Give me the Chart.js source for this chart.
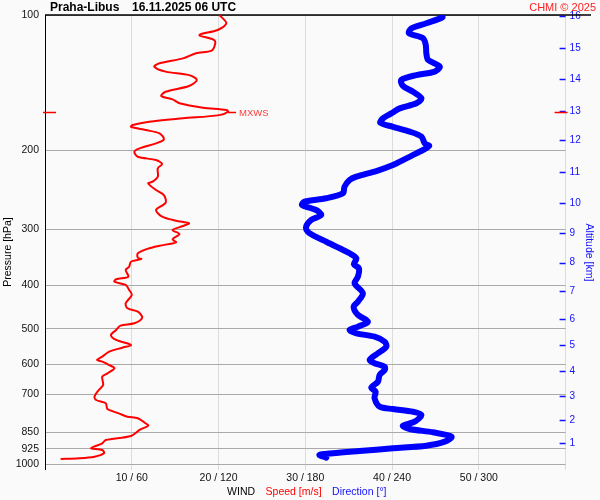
<!DOCTYPE html>
<html>
<head>
<meta charset="utf-8">
<script src="https://cdn.jsdelivr.net/npm/chart.js@4/dist/chart.umd.min.js"></script>
<style>
  html, body { margin: 0; padding: 0; background: #fafafa; }
  canvas { display: block; }
</style>
</head>
<body>
<canvas id="sounding" width="600" height="500"></canvas>
<script>
// Pressure levels [hPa] and wind speed [m/s] of the red curve (top -> surface)
const SPEED_P = [100, 104.3, 108, 110.8, 113.7, 116.2, 120.1, 121.7, 124.9, 128.1,
  130.3, 133.7, 136.1, 139.5, 143.9, 148.2, 151.5, 154.1, 157.3, 160.9,
  162.8, 164.2, 167.1, 169.9, 172.9, 175.8, 177.4, 180.4, 183.5, 189.2,
  193.1, 198.2, 201.6, 206.9, 210.4, 214.7, 219.5, 229.1, 235.1, 237.1,
  245.4, 251.8, 261.8, 271.8, 281.3, 287.2, 291.0, 295.1, 301.2, 307.5,
  315.9, 320.8, 326.5, 330.8, 339.4, 347.2, 349.5, 354.4, 363.6, 369.8,
  382.7, 387.8, 392.6, 399.3, 409.7, 420.3, 438.6, 450.0, 457.9, 472.2,
  485.9, 491.9, 502.9, 516.0, 529.4, 543.1, 550.7, 562.1, 576.7, 586.6,
  591.7, 601.9, 612.2, 628.1, 639.1, 666.9, 684.2, 708.1, 720.2, 732.5,
  754.3, 771.1, 784.6, 791.1, 811.6, 821.6, 839.9, 866.2, 884.2, 899.3,
  922.6, 930.7, 946.6, 963.3, 971.3, 974.7];
const SPEED_MS = [20.1, 20.9, 19.9, 17.8, 19.5, 19.6, 19.2, 17.4, 15.9, 13.2,
  12.6, 13.9, 16.6, 17.5, 16.6, 13.9, 13.4, 14.7, 15.5, 18.2,
  20.9, 21.1, 20.1, 15.9, 12.0, 10.1, 9.9, 11.6, 13.2, 13.7,
  12.8, 10.9, 10.3, 10.7, 12.8, 13.5, 13.0, 13.0, 12.4, 11.9,
  12.8, 13.7, 13.9, 12.8, 13.5, 15.1, 16.6, 15.9, 14.7, 15.5,
  14.7, 15.1, 13.2, 12.0, 10.7, 10.7, 11.1, 9.9, 9.7, 9.3,
  9.6, 8.2, 8.0, 9.3, 9.7, 10.0, 9.3, 9.5, 10.7, 11.2,
  10.3, 8.7, 8.2, 7.6, 8.2, 9.9, 8.9, 7.4, 6.6, 6.0,
  6.6, 7.4, 8.0, 7.2, 6.6, 6.7, 6.2, 5.7, 5.9, 7.0,
  7.2, 8.5, 9.5, 10.7, 11.6, 11.9, 10.9, 9.9, 7.0, 6.6,
  5.3, 6.6, 6.8, 5.7, 3.9, 1.8];

// Pressure levels [hPa] and wind direction [deg] of the blue curve
const DIR_P = [100, 101.2, 104.3, 107.1, 109.8, 112.7, 116.6, 121.7, 125.9, 130.3,
  133.7, 136.1, 139.5, 143.9, 148.2, 153.3, 157.3, 161.4, 165.6, 169.9,
  173.8, 177.4, 181.9, 186.6, 193.1, 195.8, 201.6, 208.6, 215.8, 222.6,
  229.1, 233.1, 241.3, 249.5, 256.0, 260.4, 265.0, 271.8, 278.9, 286.1,
  296.1, 303.9, 311.7, 319.8, 330.8, 339.4, 348.3, 359.2, 366.6, 382.7,
  395.9, 416.7, 435.1, 446.3, 465.6, 482.0, 494.5, 502.9, 511.6, 520.5,
  534.1, 548.0, 566.7, 586.6, 596.6, 607.2, 617.6, 633.6, 655.8, 676.3,
  690.2, 714.0, 745.4, 754.3, 764.8, 777.8, 805.0, 821.6, 835.6, 850.0,
  869.3, 891.9, 910.4, 922.6, 935.6, 946.6, 954.5, 968.3];
const DIR_DEG = [274.1, 274.8, 263.7, 253.4, 251.7, 261.4, 263.3, 263.7, 264.9, 273.0,
  269.5, 256.8, 246.4, 247.5, 254.5, 260.3, 256.8, 245.3, 239.5, 233.7,
  231.9, 240.6, 252.2, 260.3, 262.6, 265.6, 259.1, 249.9, 240.6, 229.1,
  215.3, 210.6, 207.1, 206.0, 194.5, 179.4, 177.8, 187.5, 191.0, 184.1,
  180.6, 181.7, 187.1, 194.5, 203.7, 210.6, 215.3, 213.6, 217.1, 216.4,
  214.1, 219.8, 216.4, 213.4, 216.4, 223.3, 216.4, 210.6, 215.3, 227.9,
  234.9, 236.0, 230.2, 224.5, 227.9, 234.9, 234.9, 231.4, 230.2, 225.6,
  228.6, 227.9, 231.4, 240.6, 254.5, 260.3, 255.6, 247.5, 252.2, 268.3,
  281.1, 276.4, 263.7, 240.6, 217.5, 199.0, 189.8, 194.5];

// Axis ticks
const P_TICKS = [100, 200, 300, 400, 500, 600, 700, 850, 925, 1000];
const ALT_KM = [1, 2, 3, 4, 5, 6, 7, 8, 9, 10, 11, 12, 13, 14, 15, 16];
const ALT_P = [899, 798, 705.8, 621.5, 544.0, 476.1, 411.8, 356.2, 306.4, 262.7,
  223.7, 190.1, 163.4, 139.1, 118.6, 100.4];
const X_LABELS = ['', '10 / 60', '20 / 120', '30 / 180', '40 / 240', '50 / 300', ''];

const FONT = "'Liberation Sans', Arial, sans-serif";
Chart.defaults.font.family = FONT;

const decor = {
    id: 'decor',
    beforeDraw(chart) {
        const { ctx, width, height } = chart;
        ctx.save();
        ctx.fillStyle = '#fafafa';
        ctx.fillRect(0, 0, width, height);
        ctx.restore();
    },
    beforeDatasetsDraw(chart) {
        const { ctx, chartArea: a, scales } = chart;
        ctx.save();
        // black top frame line, runs past the plot to the right
        const yTop = scales.y.getPixelForValue(P_TICKS[0]);
        ctx.strokeStyle = '#000';
        ctx.lineWidth = 1.5;
        ctx.beginPath();
        ctx.moveTo(a.left, yTop);
        ctx.lineTo(591, yTop);
        ctx.stroke();

        // blue altitude tick marks (inside the plot)
        ctx.strokeStyle = '#1010ff';
        ctx.lineWidth = 1.5;
        ALT_P.forEach(p => {
            const y = Math.round(scales.yAlt.getPixelForValue(p)) + 0.5;
            ctx.beginPath();
            ctx.moveTo(a.right - 6, y);
            ctx.lineTo(a.right, y);
            ctx.stroke();
        });
        ctx.restore();
    },
    afterDraw(chart) {
        const { ctx, chartArea: a, scales } = chart;
        ctx.save();

        // max wind level
        let iMax = 0;
        SPEED_MS.forEach((v, i) => { if (v > SPEED_MS[iMax]) iMax = i; });
        const ym = Math.round(scales.y.getPixelForValue(SPEED_P[iMax])) + 0.5;
        const xm = scales.x.getPixelForValue(SPEED_MS[iMax]);
        ctx.strokeStyle = '#ff0000';
        ctx.lineWidth = 1.5;
        ctx.beginPath();
        ctx.moveTo(a.left - 2, ym); ctx.lineTo(a.left + 11, ym);
        ctx.moveTo(a.right - 11, ym); ctx.lineTo(a.right + 2, ym);
        ctx.moveTo(xm, ym); ctx.lineTo(xm + 8, ym);
        ctx.stroke();
        ctx.fillStyle = '#ff3b3b';
        ctx.font = '9.5px ' + FONT;
        ctx.textBaseline = 'middle';
        ctx.fillText('MXWS', xm + 11, ym + 0.5);

        // title
        ctx.textBaseline = 'alphabetic';
        ctx.fillStyle = '#000';
        ctx.font = 'bold 12px ' + FONT;
        ctx.fillText('Praha-Libus', 50, 11);
        ctx.fillText('16.11.2025 06 UTC', 132, 11);
        ctx.fillStyle = '#ff2020';
        ctx.font = '11px ' + FONT;
        ctx.textAlign = 'right';
        ctx.fillText('CHMI \u00a9 2025', 596, 10.5);

        // axis titles
        ctx.textAlign = 'center';
        ctx.font = '10.5px ' + FONT;
        ctx.fillStyle = '#000';
        ctx.save();
        ctx.translate(10.5, 252);
        ctx.rotate(-Math.PI / 2);
        ctx.fillText('Pressure [hPa]', 0, 0);
        ctx.restore();

        ctx.fillStyle = '#1010ff';
        ctx.save();
        ctx.translate(585.5, 252.5);
        ctx.rotate(Math.PI / 2);
        ctx.fillText('Altitude [km]', 0, 0);
        ctx.restore();

        // bottom legend: WIND  Speed [m/s]  Direction [°]
        const parts = [['WIND', '#000'], ['Speed [m/s]', '#ff0000'], ['Direction [\u00b0]', '#1010ff']];
        const gap = 10.5;
        const widths = parts.map(p => ctx.measureText(p[0]).width);
        const total = widths.reduce((s, w) => s + w, 0) + gap * (parts.length - 1);
        let x = (a.left + a.right) / 2 + 1.5 - total / 2;
        ctx.textAlign = 'left';
        parts.forEach((p, i) => {
            ctx.fillStyle = p[1];
            ctx.fillText(p[0], x, 495);
            x += widths[i] + gap;
        });
        ctx.restore();
    }
};

new Chart(document.getElementById('sounding'), {
    type: 'scatter',
    data: {
        datasets: [
            {
                label: 'Direction',
                data: DIR_P.map((p, i) => ({ x: DIR_DEG[i], y: p })),
                xAxisID: 'xDir',
                yAxisID: 'y',
                showLine: true,
                tension: 0.3,
                borderColor: '#0000ff',
                borderWidth: 6,
                borderJoinStyle: 'round',
                borderCapStyle: 'round',
                pointRadius: 0
            },
            {
                label: 'Speed',
                data: SPEED_P.map((p, i) => ({ x: SPEED_MS[i], y: p })),
                xAxisID: 'x',
                yAxisID: 'y',
                showLine: true,
                tension: 0.3,
                borderColor: '#ff0000',
                borderWidth: 2,
                borderJoinStyle: 'round',
                pointRadius: 0
            }
        ]
    },
    options: {
        responsive: false,
        animation: false,
        layout: { padding: { top: 15, left: 0, right: 0, bottom: 0 } },
        plugins: {
            legend: { display: false },
            tooltip: { enabled: false }
        },
        scales: {
            x: {
                type: 'linear',
                min: 0,
                max: 60,
                position: 'bottom',
                afterFit: s => { s.height = 36; },
                ticks: {
                    stepSize: 10,
                    autoSkip: false,
                    maxRotation: 0,
                    padding: 2,
                    color: '#111',
                    font: { size: 10.5 },
                    callback: (v, i) => X_LABELS[i]
                },
                grid: {
                    color: c => (c.tick && c.tick.value === 0 ? '#000' : '#dcdcdc'),
                    tickLength: 6
                },
                border: { display: false }
            },
            xDir: { type: 'linear', min: 0, max: 360, display: false },
            y: {
                type: 'logarithmic',
                reverse: true,
                min: 100,
                max: 1000,
                position: 'left',
                afterFit: s => { s.width = 45; },
                afterBuildTicks: s => { s.ticks = P_TICKS.map(v => ({ value: v })); },
                ticks: {
                    autoSkip: false,
                    padding: 6,
                    color: '#111',
                    font: { size: 10.5 },
                    callback: v => String(v)
                },
                grid: { color: '#aaa', drawTicks: false },
                border: { color: '#000', width: 1 }
            },
            yAlt: {
                type: 'logarithmic',
                reverse: true,
                min: 100,
                max: 1000,
                position: 'right',
                afterFit: s => { s.width = 34.4; },
                afterBuildTicks: s => { s.ticks = ALT_P.map(v => ({ value: v })); },
                ticks: {
                    autoSkip: false,
                    padding: 4,
                    color: '#1010ff',
                    font: { size: 10 },
                    callback: (v, i) => String(ALT_KM[i])
                },
                grid: { display: false, drawTicks: false },
                border: { display: false }
            }
        }
    },
    plugins: [decor]
});
</script>
</body>
</html>
